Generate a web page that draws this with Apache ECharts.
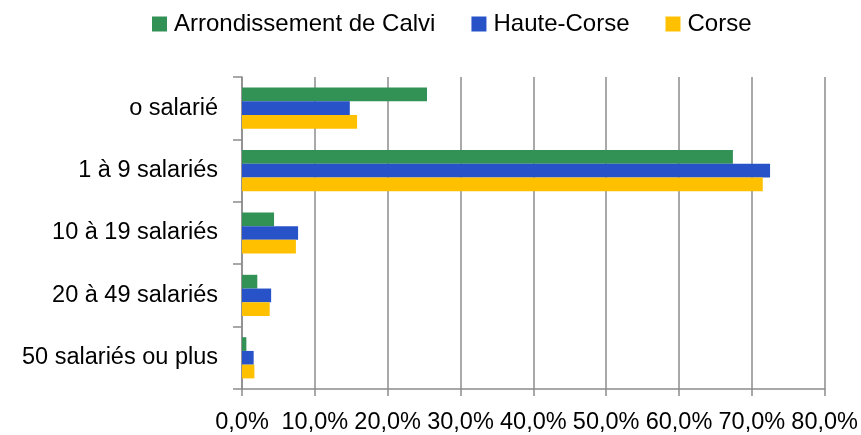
<!DOCTYPE html>
<html><head><meta charset="utf-8">
<script src="https://cdn.jsdelivr.net/npm/echarts@6/dist/echarts.min.js"></script>
<style>html,body{margin:0;padding:0;background:#fff}#c{width:861px;height:435px}</style>
</head><body><div id="c"></div>
<script>
const categories = ["o salarié", "1 à 9 salariés", "10 à 19 salariés", "20 à 49 salariés", "50 salariés ou plus"];
const seriesNames = ["Arrondissement de Calvi", "Haute-Corse", "Corse"];
const calvi = [25.4, 67.4, 4.4, 2.1, 0.6];
const hauteCorse = [14.8, 72.5, 7.7, 4.0, 1.6];
const corse = [15.8, 71.5, 7.4, 3.8, 1.7];
const xTicks = [0, 10, 20, 30, 40, 50, 60, 70, 80];

const colors = ["#329155", "#2752C8", "#FFC000"];
const font = "'Liberation Sans', Arial, sans-serif";
const chart = echarts.init(document.getElementById('c'), null, {renderer: 'canvas'});
const values = [calvi, hauteCorse, corse];
chart.setOption({
  animation: false,
  color: colors,
  legend: {
    left: 152, top: 12, padding: 0,
    itemWidth: 15, itemHeight: 15, itemGap: 36,
    icon: 'rect',
    textStyle: {fontFamily: font, fontSize: 24, color: '#000', lineHeight: 24, padding: [0, 0, 0, 2]},
    data: seriesNames
  },
  grid: {left: 242, right: 35, top: 77, bottom: 45, containLabel: false},
  xAxis: {
    type: 'value', min: xTicks[0], max: xTicks[xTicks.length - 1], interval: 10,
    axisLine: {show: true, lineStyle: {color: '#8c8c8c', width: 1.5}},
    axisTick: {show: true, length: 7, lineStyle: {color: '#8c8c8c', width: 1.5}},
    splitLine: {show: true, lineStyle: {color: '#8c8c8c', width: 1.5}},
    axisLabel: {
      fontFamily: font, fontSize: 23.5, color: '#000', margin: 22,
      formatter: v => v.toFixed(1).replace('.', ',') + '%'
    }
  },
  yAxis: {
    type: 'category', data: categories, inverse: true,
    axisLine: {show: true, lineStyle: {color: '#8c8c8c', width: 1.5}},
    axisTick: {show: true, length: 9, lineStyle: {color: '#8c8c8c', width: 1.5}},
    axisLabel: {fontFamily: font, fontSize: 23.5, color: '#000', margin: 24}
  },
  series: seriesNames.map((n, i) => ({
    name: n, type: 'bar', data: values[i],
    barGap: '0%', barCategoryGap: '34%',
    itemStyle: {color: colors[i]}
  }))
});
</script></body></html>
